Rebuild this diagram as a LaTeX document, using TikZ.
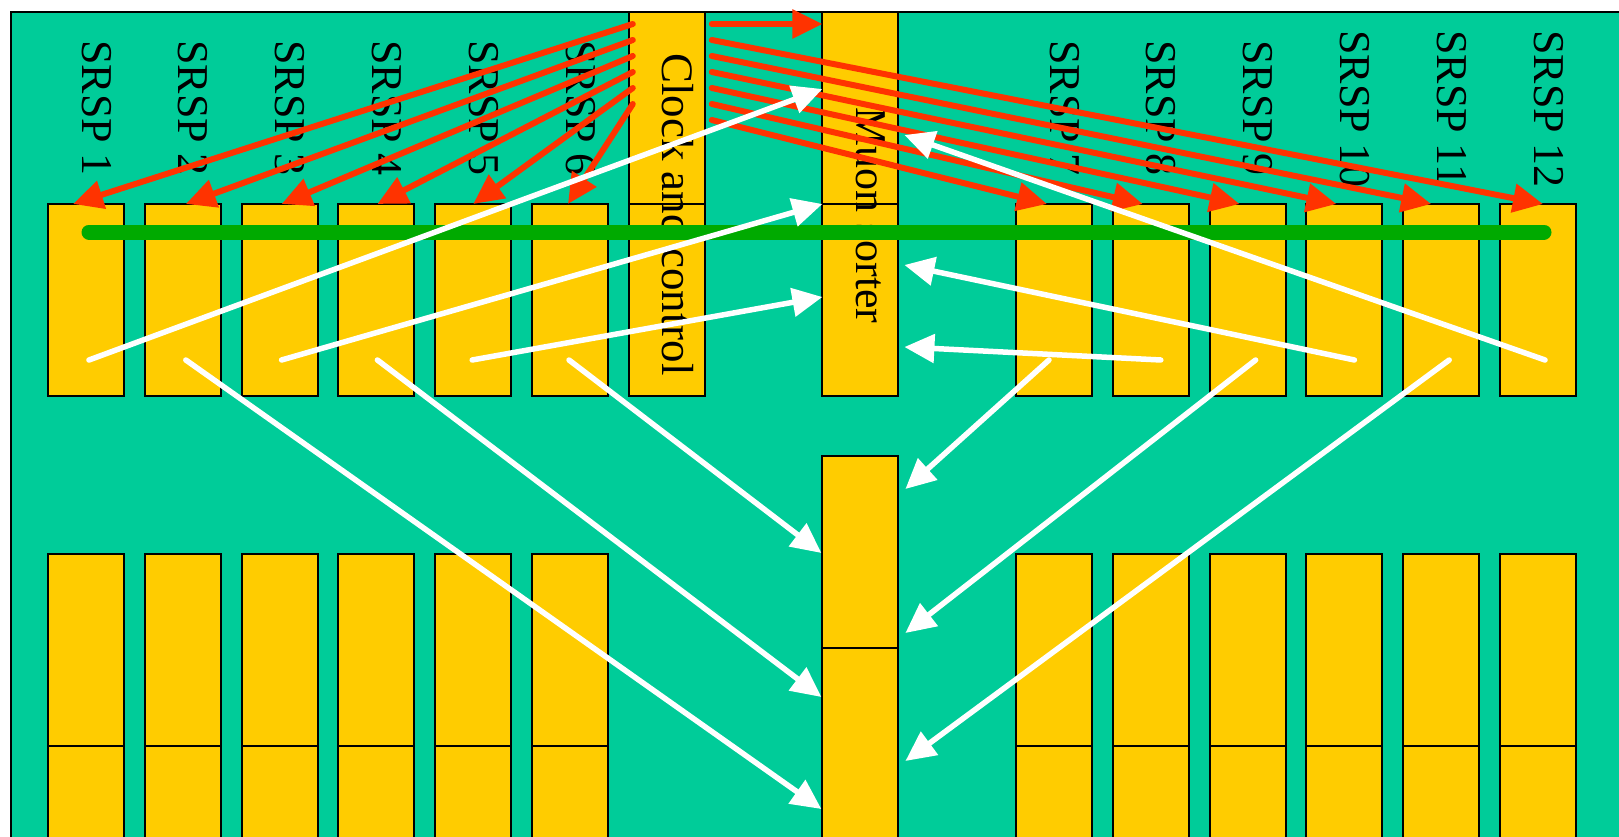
\documentclass[tikz,border=0pt]{standalone}
\usepackage{fontspec}
\setmainfont{Liberation Serif}
\usetikzlibrary{arrows.meta}
\definecolor{boardgreen}{RGB}{0,204,153}
\definecolor{cardyellow}{RGB}{255,204,0}
\definecolor{linkred}{RGB}{255,51,0}
\definecolor{busgreen}{RGB}{0,170,0}
\tikzset{
  card/.style={draw,fill=cardyellow,line width=2pt,outer sep=0pt,inner sep=0pt,minimum width=76pt,minimum height=192pt,anchor=north west},
  card label/.style={rotate=-90,anchor=base west,inner sep=0pt,font=\fontsize{44}{50}\selectfont},
  bus line/.style={busgreen,line width=15pt,line cap=round},
  clock link/.style={linkred,line width=6pt,line cap=round,-{Triangle[length=30pt,width=28pt]}},
  data link/.style={white,line width=5.5pt,line cap=round,-{Triangle[length=30pt,width=28pt]}},
}

\begin{document}
\begin{tikzpicture}[x=1pt,y=-1pt]
  \useasboundingbox (0,0) rectangle (1619,837);
  \clip (0,0) rectangle (1619,837);
  \fill[white] (0,0) rectangle (1619,837);
  \draw[fill=boardgreen,line width=2pt] (10.5,12) rectangle (1680,900);
  \foreach \i/\s/\ly in {1/0/40,2/1/40,3/2/40,4/3/40,5/4/40,6/5/40,7/10/40,8/11/40,9/12/40,10/13/30,11/14/30,12/15/30}{
    \node[card] (s\i) at (48+96.8*\s,204) {};
    \node[card] (b\i) at (48+96.8*\s,554) {};
    \node[card] (c\i) at (48+96.8*\s,746) {};
    \node[card label] (l\i) at (82+96.8*\s,\ly) {SRSP \i};
  }
  \node[card] (clk1) at (628.8,12) {};
  \node[card] (clk2) at (628.8,204) {};
  \node[card] (mu1) at (822.4,12) {};
  \node[card] (mu2) at (822.4,204) {};
  \node[card] (mid1) at (822.4,456) {};
  \node[card] (mid2) at (822.4,648) {};
  \node[card label,font=\fontsize{45}{50}\selectfont] (clklbl) at (662.8,53) {Clock and control};
  \node[card label,font=\fontsize{44}{50}\selectfont] (mulbl) at (856.4,107) {Muon sorter};
  \draw[bus line] ([shift={(41,28)}]s1.north west) -- ([shift={(44,28)}]s12.north west);
  \foreach \k/\i/\dx in {0/1/25,1/2/41,2/3/40,3/4/39,4/5/38,5/6/36}
    \draw[clock link] ([shift={(4,12+16*\k)}]clk1.north west) -- ([shift={(\dx,0)}]s\i.north west);
  \draw[clock link] ([shift={(7,12)}]clk1.north east) -- ([shift={(0,12)}]mu1.north west);
  \foreach \k/\i/\dx in {1/12/43,2/11/28,3/10/30,4/9/30,5/8/30,6/7/31}
    \draw[clock link] ([shift={(7,12+16*\k)}]clk1.north east) -- ([shift={(\dx,0)}]s\i.north west);
  \foreach \i/\dx/\t/\a/\ox/\oy in {1/41/mu1/north west/0/77,3/40/mu1/south west/0/0,5/37/mu2/north west/0/93,12/45/mu1/north east/6/123,10/48/mu2/north east/6/61,8/48/mu2/north east/6/143,2/41/mid2/north west/-1/161,4/39/mid2/north west/-1/49,6/37/mid1/north west/-1/97,7/33/mid1/north east/7/33,9/46/mid1/north east/7/177,11/46/mid2/north east/7/113}
    \draw[data link] ([shift={(\dx,-36)}]s\i.south west) -- ([shift={(\ox,\oy)}]\t.\a);
\end{tikzpicture}
\end{document}
